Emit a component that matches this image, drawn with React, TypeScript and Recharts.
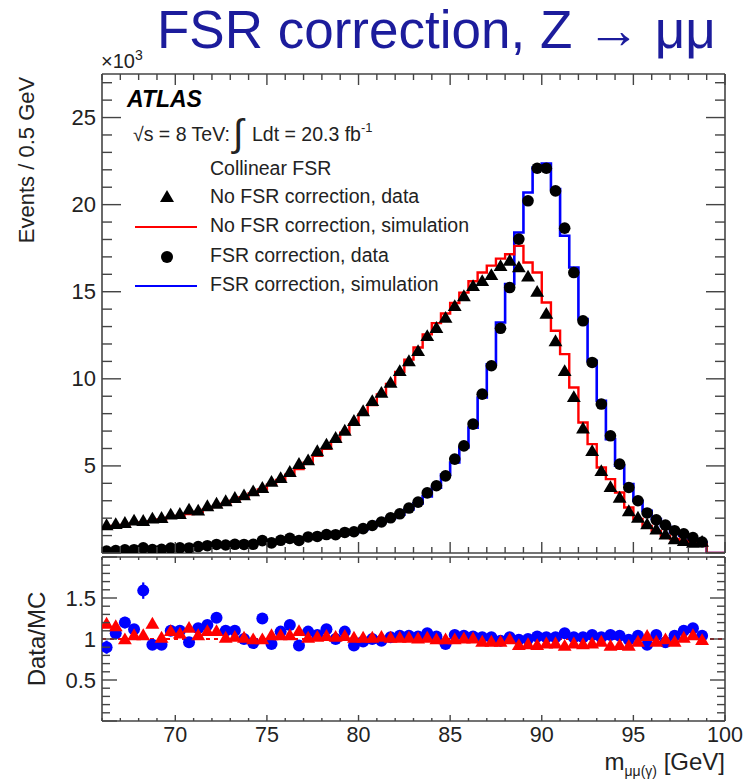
import React from 'react'
import {
  ComposedChart,
  Line,
  Scatter,
  XAxis,
  YAxis,
  ReferenceLine,
  ErrorBar,
} from 'recharts'

// 0.5 GeV bins from 66 to 99 GeV
const binCenters = [
  66.25, 66.75, 67.25, 67.75, 68.25, 68.75, 69.25, 69.75, 70.25, 70.75,
  71.25, 71.75, 72.25, 72.75, 73.25, 73.75, 74.25, 74.75, 75.25, 75.75,
  76.25, 76.75, 77.25, 77.75, 78.25, 78.75, 79.25, 79.75, 80.25, 80.75,
  81.25, 81.75, 82.25, 82.75, 83.25, 83.75, 84.25, 84.75, 85.25, 85.75,
  86.25, 86.75, 87.25, 87.75, 88.25, 88.75, 89.25, 89.75, 90.25, 90.75,
  91.25, 91.75, 92.25, 92.75, 93.25, 93.75, 94.25, 94.75, 95.25, 95.75,
  96.25, 96.75, 97.25, 97.75, 98.25, 98.75,
]

// events x10^3
const noFsrData = [
  1.61, 1.68, 1.74, 1.88, 1.86, 1.99, 2.03, 2.22, 2.26, 2.51,
  2.45, 2.7, 2.85, 2.99, 3.18, 3.33, 3.56, 3.75, 4.1, 4.32,
  4.67, 5.13, 5.34, 5.86, 6.24, 6.62, 7.04, 7.6, 8.16, 8.74,
  9.21, 9.79, 10.46, 11.03, 11.61, 12.47, 12.94, 13.52, 14.19, 14.76,
  15.34, 15.63, 15.97, 16.49, 16.8, 16.42, 15.89, 15.01, 13.75, 12.18,
  10.46, 8.97, 7.17, 5.87, 4.72, 3.8, 3.19, 2.42, 2.04, 1.66,
  1.37, 1.08, 0.8, 0.7, 0.6, 0.66,
]
const noFsrSim = [
  1.48, 1.55, 1.61, 1.68, 1.75, 1.83, 1.92, 2.02, 2.12, 2.24,
  2.36, 2.5, 2.65, 2.82, 3.0, 3.2, 3.42, 3.65, 3.92, 4.2,
  4.5, 4.82, 5.18, 5.58, 5.98, 6.4, 6.9, 7.4, 7.95, 8.5,
  9.1, 9.7, 10.4, 11.1, 11.8, 12.55, 13.2, 13.75, 14.35, 14.95,
  15.6, 16.1, 16.5, 16.9, 17.15, 17.63, 16.68, 16.1, 14.38, 12.76,
  11.42, 9.5, 7.49, 6.25, 4.91, 4.24, 3.47, 2.61, 1.95, 1.56,
  1.27, 0.99, 0.8, 0.7, 0.6, 0.51,
]
const fsrData = [
  0.11, 0.14, 0.18, 0.19, 0.3, 0.2, 0.21, 0.28, 0.3, 0.29,
  0.37, 0.42, 0.49, 0.46, 0.5, 0.49, 0.5, 0.71, 0.58, 0.73,
  0.84, 0.72, 0.92, 0.95, 1.06, 1.05, 1.18, 1.22, 1.4, 1.58,
  1.78, 2.02, 2.25, 2.58, 2.92, 3.45, 3.86, 4.43, 5.39, 6.15,
  7.4, 9.12, 10.75, 12.9, 15.24, 18.02, 20.22, 22.09, 22.09, 20.79,
  18.65, 16.1, 13.33, 10.94, 8.55, 6.73, 5.1, 3.76, 3.0, 2.3,
  1.9, 1.6, 1.28, 1.1, 0.88, 0.63,
]
const fsrSim = [
  0.12, 0.13, 0.15, 0.17, 0.19, 0.21, 0.23, 0.25, 0.27, 0.3,
  0.33, 0.36, 0.39, 0.42, 0.45, 0.49, 0.53, 0.57, 0.62, 0.67,
  0.72, 0.78, 0.84, 0.9, 0.95, 1.0, 1.08, 1.2, 1.35, 1.55,
  1.8, 2.0, 2.2, 2.5, 2.85, 3.25, 3.75, 4.5, 5.2, 6.06,
  7.2, 8.93, 10.84, 13.23, 15.44, 18.4, 20.7, 22.13, 22.36, 20.89,
  18.21, 16.39, 13.43, 11.03, 8.74, 6.54, 5.01, 3.96, 3.0, 2.42,
  1.95, 1.56, 1.18, 0.99, 0.8, 0.6,
]

// Data/MC
const noFsrRatio = [
  1.19, 1.16, 1.0, 1.05, 1.05, 1.19, 1.02, 1.1, 1.07, 1.14,
  1.05, 1.1, 1.1, 1.02, 1.03, 1.02, 1.0, 1.0, 1.05, 1.05,
  1.05, 1.1, 1.02, 1.03, 1.04, 1.03, 1.04, 1.02, 1.02, 1.02,
  1.03, 1.02, 1.02, 1.02, 1.01, 1.02, 1.0, 1.0, 1.0, 1.01,
  1.01, 0.97, 0.97, 0.97, 1.0, 0.93, 0.94, 0.93, 0.95, 0.95,
  0.92, 0.95, 0.94, 0.95, 0.97, 0.92, 0.93, 0.92, 0.97, 1.04,
  0.97, 1.0, 0.97, 1.02, 1.05, 0.99,
]
const fsrRatio = [
  0.9, 1.07, 1.2, 1.12, 1.59, 0.93, 0.93, 1.1, 1.1, 0.96,
  1.13, 1.17, 1.26, 1.1, 1.1, 1.0, 0.95, 1.25, 0.94, 1.09,
  1.17, 0.92, 1.09, 1.05, 1.12, 1.0, 1.09, 0.92, 0.97, 1.0,
  0.98, 1.02, 1.04, 1.04, 1.03, 1.07, 1.03, 0.94, 1.05, 1.04,
  1.03, 1.02, 1.02, 0.98, 1.02, 0.99, 1.0, 1.03, 1.02, 1.02,
  1.07, 1.02, 1.02, 1.05, 1.02, 1.05, 1.04, 0.99, 1.04, 0.93,
  1.05, 0.96, 1.04, 1.1, 1.13, 1.04,
]
const fsrRatioErr = [
  0.08, 0.06, 0.07, 0.05, 0.1, 0.05, 0.05, 0.04, 0.04, 0.04,
  0.04, 0.03, 0.03, 0.03, 0.03, 0.03, 0.03, 0.03, 0.02, 0.02,
  0.02, 0.02, 0.02, 0.02, 0.02, 0.02, 0.02, 0.02, 0.02, 0.02,
  0.01, 0.01, 0.01, 0.01, 0.01, 0.01, 0.01, 0.01, 0.01, 0.01,
  0.01, 0.01, 0.01, 0.01, 0.01, 0.01, 0.01, 0.01, 0.01, 0.01,
  0.01, 0.01, 0.01, 0.01, 0.01, 0.01, 0.01, 0.01, 0.01, 0.02,
  0.02, 0.02, 0.02, 0.03, 0.03, 0.03,
]

const xTicks = [
  66, 67, 68, 69, 70, 71, 72, 73, 74, 75, 76, 77, 78, 79, 80, 81, 82, 83,
  84, 85, 86, 87, 88, 89, 90, 91, 92, 93, 94, 95, 96, 97, 98, 99, 100,
]
const mainYTicks = [
  0, 1, 2, 3, 4, 5, 6, 7, 8, 9, 10, 11, 12, 13, 14, 15, 16, 17, 18, 19,
  20, 21, 22, 23, 24, 25, 26, 27,
]
const ratioYTicks = [
  0, 0.1, 0.2, 0.3, 0.4, 0.5, 0.6, 0.7, 0.8, 0.9, 1, 1.1, 1.2, 1.3, 1.4,
  1.5, 1.6, 1.7, 1.8, 1.9, 2,
]

const FONT = '"Liberation Sans", Arial, Helvetica, sans-serif'
const FRAME = '#444'
const TEXT = '#222'
const RED = '#ff0000'
const BLUE = '#0000ff'

const steps = (vals: number[]) => {
  const rows = binCenters.map((c, i) => ({ x: c - 0.25, v: vals[i] }))
  rows.push({ x: 99, v: 0 }, { x: 100, v: 0 })
  return rows
}
const points = (vals: number[], err?: number[]) =>
  binCenters.map((c, i) => (err ? { x: c, y: vals[i], err: err[i] } : { x: c, y: vals[i] }))

type Side = 'bottom' | 'top' | 'left' | 'right'

const makeTick =
  (side: Side, majorLen: number, minorLen: number, isMajor: (v: number) => boolean, label?: (v: number) => string | null) =>
  (p: any) => {
    const v = p.payload.value
    const len = isMajor(v) ? majorLen : minorLen
    let x2 = p.x
    let y2 = p.y
    if (side === 'bottom') y2 = p.y - len
    if (side === 'top') y2 = p.y + len
    if (side === 'left') x2 = p.x + len
    if (side === 'right') x2 = p.x - len
    const text = label ? label(v) : null
    return (
      <g>
        <line x1={p.x} y1={p.y} x2={x2} y2={y2} stroke={FRAME} strokeWidth={1.4} />
        {text && side === 'bottom' && (
          <text x={p.x} y={p.y + 21} textAnchor="middle" fontSize={21.5} fill={TEXT} fontFamily={FONT}>
            {text}
          </text>
        )}
        {text && side === 'left' && (
          <text x={p.x - 6} y={p.y + 7.5} textAnchor="end" fontSize={22} fill={TEXT} fontFamily={FONT}>
            {text}
          </text>
        )}
      </g>
    )
  }

const near = (a: number, b: number) => Math.abs(a - b) < 1e-6
const every5 = (v: number) => near(v % 5, 0)
const everyHalf = (v: number) => near(v * 2, Math.round(v * 2))

const triangle = (color: string, r: number) => (p: any) => {
  const { cx, cy } = p
  if (cx == null || cy == null) return <g />
  return (
    <polygon
      points={`${cx},${cy - r} ${cx - r * 1.05},${cy + r * 0.8} ${cx + r * 1.05},${cy + r * 0.8}`}
      fill={color}
    />
  )
}
const circle = (color: string, r: number) => (p: any) => {
  const { cx, cy } = p
  if (cx == null || cy == null) return <g />
  return <circle cx={cx} cy={cy} r={r} fill={color} />
}

const axisLine = { stroke: FRAME, strokeWidth: 1.6 }
const common = { interval: 0 as const, allowDataOverflow: true, tickSize: 0, tickMargin: 0, tickLine: false, axisLine }

function MainPanel() {
  return (
    <ComposedChart width={752} height={560} margin={{ top: 54, right: 7, bottom: 2, left: 42 }}>
      <XAxis
        xAxisId="b"
        type="number"
        dataKey="x"
        domain={[66, 100]}
        ticks={xTicks}
        height={5}
        {...common}
        tick={makeTick('bottom', 11, 6, every5)}
      />
      <XAxis
        xAxisId="t"
        orientation="top"
        type="number"
        dataKey="x"
        domain={[66, 100]}
        ticks={xTicks}
        height={20}
        {...common}
        tick={makeTick('top', 11, 6, every5)}
      />
      <YAxis
        yAxisId="l"
        type="number"
        domain={[0, 27.5]}
        ticks={mainYTicks}
        width={60}
        {...common}
        tick={makeTick('left', 19, 10, every5, (v) => (v > 0 && every5(v) ? String(v) : null))}
      />
      <YAxis
        yAxisId="r"
        orientation="right"
        type="number"
        domain={[0, 27.5]}
        ticks={mainYTicks}
        width={20}
        {...common}
        tick={makeTick('right', 19, 10, every5)}
      />
      <Line
        xAxisId="b"
        yAxisId="l"
        data={steps(fsrSim)}
        dataKey="v"
        type="stepAfter"
        stroke={BLUE}
        strokeWidth={2.6}
        dot={false}
        isAnimationActive={false}
      />
      <Line
        xAxisId="b"
        yAxisId="l"
        data={steps(noFsrSim)}
        dataKey="v"
        type="stepAfter"
        stroke={RED}
        strokeWidth={2.4}
        dot={false}
        isAnimationActive={false}
      />
      <Scatter
        xAxisId="b"
        yAxisId="l"
        data={points(noFsrData)}
        dataKey="y"
        shape={triangle('#000', 6.6)}
        isAnimationActive={false}
      />
      <Scatter
        xAxisId="b"
        yAxisId="l"
        data={points(fsrData)}
        dataKey="y"
        shape={circle('#000', 5.8)}
        isAnimationActive={false}
      />
    </ComposedChart>
  )
}

function RatioPanel() {
  return (
    <ComposedChart width={752} height={242} margin={{ top: 7, right: 7, bottom: 21, left: 42 }}>
      <XAxis
        xAxisId="b"
        type="number"
        dataKey="x"
        domain={[66, 100]}
        ticks={xTicks}
        height={40}
        {...common}
        tick={makeTick('bottom', 6, 3, every5, (v) => (v >= 70 && every5(v) ? String(v) : null))}
      />
      <XAxis
        xAxisId="t"
        orientation="top"
        type="number"
        dataKey="x"
        domain={[66, 100]}
        ticks={xTicks}
        height={10}
        {...common}
        tick={makeTick('top', 6, 3, every5)}
      />
      <YAxis
        yAxisId="l"
        type="number"
        domain={[0, 2]}
        ticks={ratioYTicks}
        width={60}
        {...common}
        tick={makeTick('left', 15, 8, everyHalf, (v) =>
          near(v, 0.5) ? '0.5' : near(v, 1) ? '1' : near(v, 1.5) ? '1.5' : null,
        )}
      />
      <YAxis
        yAxisId="r"
        orientation="right"
        type="number"
        domain={[0, 2]}
        ticks={ratioYTicks}
        width={20}
        {...common}
        tick={makeTick('right', 15, 8, everyHalf)}
      />
      <ReferenceLine xAxisId="b" yAxisId="l" y={1} stroke={RED} strokeWidth={2.2} strokeDasharray="4 4" />
      <Scatter
        xAxisId="b"
        yAxisId="l"
        data={points(fsrRatio, fsrRatioErr)}
        dataKey="y"
        shape={circle(BLUE, 6)}
        isAnimationActive={false}
      >
        <ErrorBar dataKey="err" direction="y" width={0} stroke={BLUE} strokeWidth={2.2} />
      </Scatter>
      <Scatter
        xAxisId="b"
        yAxisId="l"
        data={points(noFsrRatio)}
        dataKey="y"
        shape={triangle(RED, 6.6)}
        isAnimationActive={false}
      />
    </ComposedChart>
  )
}

function Overlay() {
  const legendFont = 19.5
  return (
    <svg
      width={752}
      height={782}
      style={{ position: 'absolute', left: 0, top: 0, pointerEvents: 'none' }}
      fontFamily={FONT}
    >
      <text x={157} y={48} fontSize={53} fill="#1c1c9c">
        FSR correction, Z → μμ
      </text>

      <text x={101} y={68} fontSize={20} fill={TEXT}>
        ×10
        <tspan fontSize={14} dy={-8}>
          3
        </tspan>
      </text>

      <text x={127} y={107} fontSize={23} fontWeight="bold" fontStyle="italic" fill="#000">
        ATLAS
      </text>
      <text x={133} y={141} fontSize={legendFont} fill={TEXT}>
        √s = 8 TeV:
      </text>
      <text x={233} y={146} fontSize={38} fill={TEXT}>
        ∫
      </text>
      <text x={252} y={141} fontSize={legendFont} fill={TEXT}>
        Ldt = 20.3 fb
        <tspan fontSize={13} dy={-9}>
          -1
        </tspan>
      </text>

      <text x={210} y={175} fontSize={legendFont} fill={TEXT}>
        Collinear FSR
      </text>
      <polygon points="167,190 160,202 174,202" fill="#000" />
      <text x={210} y={203} fontSize={legendFont} fill={TEXT}>
        No FSR correction, data
      </text>
      <line x1={135} y1={227} x2={197} y2={227} stroke={RED} strokeWidth={2.2} />
      <text x={210} y={232} fontSize={legendFont} fill={TEXT}>
        No FSR correction, simulation
      </text>
      <circle cx={167} cy={257} r={6} fill="#000" />
      <text x={210} y={262} fontSize={legendFont} fill={TEXT}>
        FSR correction, data
      </text>
      <line x1={135} y1={286} x2={197} y2={286} stroke={BLUE} strokeWidth={2.2} />
      <text x={210} y={291} fontSize={legendFont} fill={TEXT}>
        FSR correction, simulation
      </text>

      <text x={34} y={160} fontSize={22} fill={TEXT} textAnchor="middle" transform="rotate(-90 34 160)">
        Events / 0.5 GeV
      </text>
      <text x={45} y={639} fontSize={24} fill={TEXT} textAnchor="middle" transform="rotate(-90 45 639)">
        Data/MC
      </text>
      <text x={725} y={770} fontSize={24} fill={TEXT} textAnchor="end">
        m
        <tspan fontSize={14} dy={6}>
          μμ(γ)
        </tspan>
        <tspan dy={-6}> [GeV]</tspan>
      </text>
    </svg>
  )
}

export default function App() {
  return (
    <div
      style={{
        position: 'absolute',
        left: 0,
        top: 0,
        width: 752,
        height: 782,
        background: '#fff',
        fontFamily: FONT,
      }}
    >
      <div style={{ position: 'absolute', left: 0, top: 0 }}>
        <MainPanel />
      </div>
      <div style={{ position: 'absolute', left: 0, top: 540 }}>
        <RatioPanel />
      </div>
      <Overlay />
    </div>
  )
}
